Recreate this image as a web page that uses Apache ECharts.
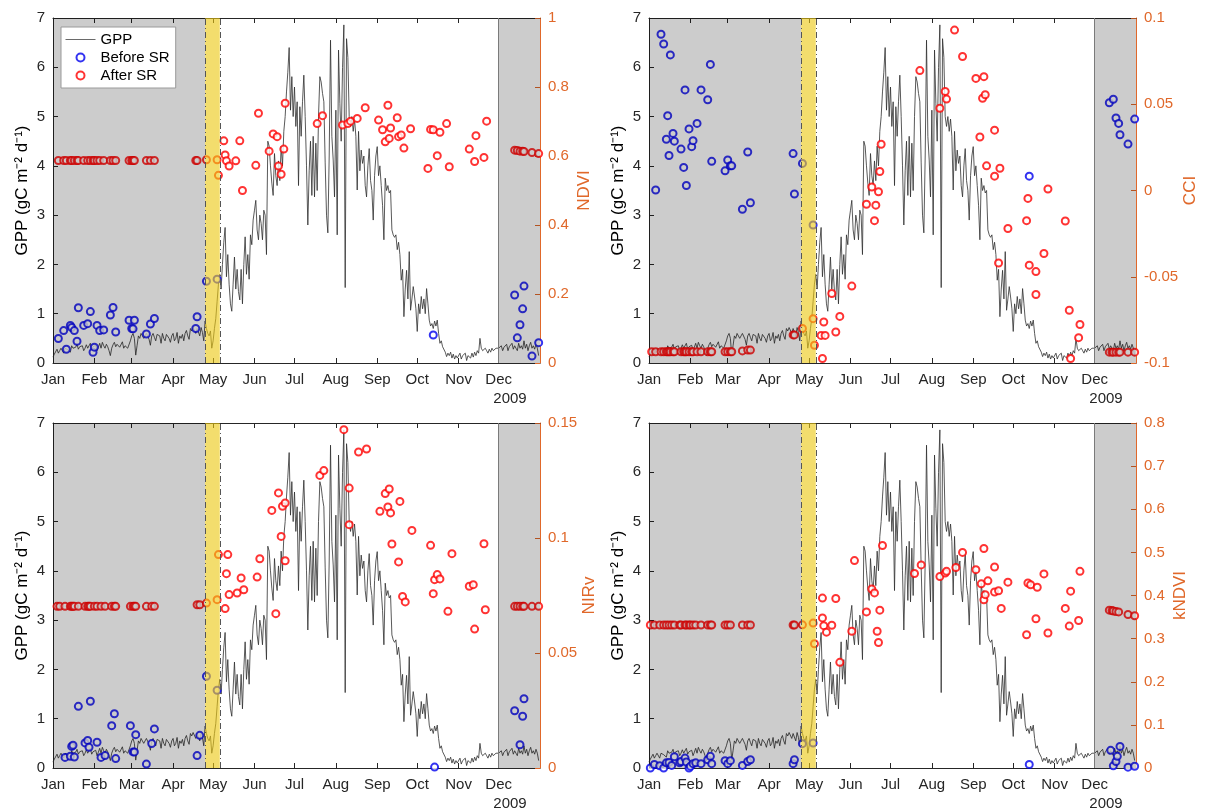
<!DOCTYPE html>
<html>
<head>
<meta charset="utf-8">
<script src="https://cdn.jsdelivr.net/npm/echarts@6/dist/echarts.min.js"></script>
<style>
  html, body { margin: 0; padding: 0; background: #fff; }
  #chart { width: 1205px; height: 812px; }
</style>
</head>
<body>
<div id="chart"></div>
<script>
// Daily GPP for 2009, one array per month (gC m-2 d-1)
const gppJan = [0.12,0.18,0.22,0.28,0.2,0.25,0.3,0.26,0.2,0.3,0.33,0.27,0.3,0.22,0.35,0.3,0.26,0.32,0.38,0.28,0.33,0.3,0.35,0.25,0.3,0.37,0.3,0.33,0.4,0.28,0.33];
const gppFeb = [0.3,0.36,0.25,0.32,0.4,0.3,0.42,0.35,0.3,0.38,0.33,0.25,0.15,0.3,0.37,0.42,0.33,0.38,0.4,0.32,0.36,0.43,0.3,0.35,0.38,0.3,0.33,0.45];
const gppMar = [0.55,0.6,0.5,0.16,0.35,0.55,0.5,0.6,0.63,0.5,0.55,0.6,0.58,0.48,0.36,0.55,0.6,0.52,0.45,0.58,0.62,0.55,0.4,0.6,0.5,0.45,0.58,0.62,0.5,0.42,0.55];
const gppApr = [0.6,0.45,0.5,0.62,0.4,0.55,0.5,0.58,0.45,0.6,0.66,0.55,0.48,0.7,0.65,0.72,0.75,0.6,0.7,0.74,0.55,0.72,0.62,0.45,0.85,0.7,0.6,0.55,0.65,0.3];
const gppMay = [0.45,0.7,0.9,1.25,1.6,1.8,1.5,2.0,2.45,2.75,1.75,2.2,1.6,1.2,1.05,1.6,2.15,1.5,1.9,1.45,1.28,1.9,1.2,2.0,2.56,1.8,2.2,1.7,2.6,2.4,2.9];
const gppJun = [3.1,3.3,2.7,2.5,3.0,2.83,2.5,3.1,3.0,2.2,4.5,4.4,4.0,3.65,3.4,4.25,3.8,3.6,4.1,3.7,4.4,4.0,4.7,5.0,5.5,5.9,6.4,5.13,5.81,5.0];
const gppJul = [5.6,4.8,5.3,3.6,5.2,4.6,5.3,5.84,5.0,4.0,2.8,3.9,4.5,3.4,4.6,3.37,4.46,3.5,5.0,5.81,5.7,5.47,5.3,4.06,3.0,2.64,4.2,6.55,4.6,4.12,3.37];
const gppAug = [5.13,2.6,6.35,5.27,4.5,6.0,6.86,1.53,6.58,6.2,5.0,4.8,5.0,4.7,4.95,4.6,3.51,4.7,3.9,4.32,4.05,4.2,3.6,3.37,4.0,4.35,3.7,3.5,2.9,3.8,4.2];
const gppSep = [4.39,3.8,4.0,3.6,3.2,2.5,3.75,3.5,3.6,3.45,3.5,2.7,2.6,2.55,2.6,2.3,2.45,2.2,1.68,1.9,0.94,1.5,1.88,1.3,2.26,1.07,1.3,1.55,1.34,1.1];
const gppOct = [0.64,1.2,1.0,1.35,1.1,1.3,1.0,1.51,1.2,0.87,0.75,0.8,0.7,0.85,0.75,0.87,0.6,0.4,0.45,0.33,0.3,0.22,0.13,0.2,0.15,0.22,0.1,0.18,0.08,0.15,0.1];
const gppNov = [0.1,0.2,0.08,0.15,0.12,0.2,0.05,0.15,0.18,0.1,0.2,0.12,0.22,0.15,0.25,0.2,0.5,0.3,0.25,0.25,0.3,0.25,0.2,0.28,0.22,0.3,0.25,0.22,0.3,0.28];
const gppDec = [0.3,0.28,0.35,0.25,0.32,0.3,0.38,0.25,0.33,0.3,0.4,0.28,0.35,0.3,0.25,0.4,0.3,0.35,0.28,0.45,0.3,0.38,0.25,0.35,0.42,0.3,0.35,0.28,0.38,0.3,0.15];

// Month tick labels and the day of year each month starts on
const monthNames = ['Jan','Feb','Mar','Apr','May','Jun','Jul','Aug','Sep','Oct','Nov','Dec'];
const monthStarts = [0,31,59,90,120,151,181,212,243,273,304,334];
const yearLabel = '2009';

// Snow periods (day of year) and the snow-melt transition band
const snowSpring = [0, 114];
const meltBand = [114, 125];
const snowWinter = [334, 365];

// NDVI: [day of year, value]
const ndviBefore = [[4,0.071],[8,0.094],[10,0.040],[13,0.109],[14,0.103],[16,0.094],[18,0.063],[19,0.160],[23,0.109],[26,0.114],[28,0.149],[30,0.031],[31,0.046],[33,0.109],[35,0.094],[38,0.096],[43,0.139],[45,0.161],[47,0.090],[57,0.124],[59,0.100],[60,0.099],[61,0.124],[70,0.084],[73,0.113],[76,0.129],[107,0.100],[108,0.134],[115,0.237],[123,0.243],[285,0.081],[346,0.197],[348,0.073],[350,0.111],[352,0.157],[353,0.223],[359,0.020],[364,0.059]];
const ndviAfter = [[4,0.587],[8,0.587],[10,0.587],[13,0.587],[14,0.587],[16,0.587],[18,0.587],[19,0.587],[23,0.587],[26,0.587],[28,0.587],[30,0.587],[31,0.587],[33,0.587],[35,0.587],[38,0.587],[43,0.587],[45,0.587],[47,0.587],[57,0.587],[59,0.587],[60,0.587],[61,0.587],[70,0.587],[73,0.587],[76,0.587],[107,0.587],[108,0.587],[115,0.589],[123,0.589],[124,0.544],
  [128,0.644],[129,0.603],[130,0.586],[132,0.571],[137,0.586],[140,0.644],[142,0.500],[152,0.573],[154,0.724],[162,0.614],[165,0.664],[168,0.656],[169,0.571],[171,0.547],[173,0.620],[174,0.753],[198,0.694],[202,0.717],[217,0.690],[221,0.694],[223,0.701],[228,0.709],[234,0.740],[244,0.704],[247,0.676],[249,0.641],[251,0.747],[252,0.651],[253,0.681],[258,0.711],[259,0.656],[261,0.661],[263,0.623],[268,0.679],[281,0.564],[283,0.677],[285,0.676],[288,0.601],[290,0.669],[295,0.694],[297,0.569],[312,0.620],[316,0.584],[317,0.659],[323,0.596],[325,0.701],
  [346,0.617],[348,0.616],[350,0.614],[352,0.614],[353,0.613],[359,0.610],[364,0.607]];

// CCI
const cciBefore = [[5,0.0003],[9,0.0906],[11,0.0849],[13,0.0297],[14,0.0434],[15,0.0203],[16,0.0786],[18,0.0331],[19,0.0286],[24,0.0240],[26,0.0134],[27,0.0583],[28,0.0029],[30,0.0357],[32,0.0254],[33,0.0289],[36,0.0389],[39,0.0583],[44,0.0526],[46,0.0731],[47,0.0169],[57,0.0114],[59,0.0177],[61,0.0143],[62,0.0143],[70,-0.0109],[74,0.0223],[76,-0.0071],[108,0.0214],[109,-0.0020],[115,0.0157],[123,-0.0200],[285,0.0083],[345,0.0509],[348,0.0529],[350,0.0420],[352,0.0389],[353,0.0323],[359,0.0269],[364,0.0414]];
const cciAfter = [[2,-0.0935],[5,-0.0935],[9,-0.0935],[11,-0.0935],[13,-0.0935],[14,-0.0935],[15,-0.0935],[16,-0.0935],[18,-0.0935],[19,-0.0935],[24,-0.0935],[26,-0.0935],[27,-0.0935],[28,-0.0935],[30,-0.0935],[32,-0.0935],[33,-0.0935],[36,-0.0935],[39,-0.0935],[44,-0.0935],[46,-0.0935],[47,-0.0935],[57,-0.0935],[59,-0.0935],[61,-0.0935],[62,-0.0935],[70,-0.0930],[74,-0.0925],[76,-0.0925],[108,-0.0837],[109,-0.0837],[115,-0.0800],[123,-0.0743],[124,-0.0897],
  [129,-0.0840],[130,-0.0974],[131,-0.0762],[132,-0.0840],[137,-0.0597],[140,-0.0820],[143,-0.0730],[152,-0.0554],[163,-0.0080],[167,0.0020],[169,-0.0175],[170,-0.0085],[172,-0.0007],[173,0.0110],[174,0.0268],[203,0.0695],[218,0.0477],[222,0.0574],[223,0.0530],[229,0.0930],[235,0.0777],[245,0.0650],[248,0.0310],[250,0.0535],[251,0.0660],[252,0.0555],[253,0.0143],[259,0.0083],[259,0.0350],[262,-0.0420],[263,0.0129],[269,-0.0220],[283,-0.0175],[284,-0.0046],[285,-0.0433],[290,-0.0603],[290,-0.0470],[296,-0.0365],[299,0.0009],[312,-0.0177],[315,-0.0694],[316,-0.0974],[322,-0.0853],[323,-0.0777],
  [345,-0.0937],[347,-0.0937],[348,-0.0937],[350,-0.0937],[352,-0.0937],[353,-0.0937],[359,-0.0937],[364,-0.0937]];

// NIRv
const nirvBefore = [[9,0.0046],[13,0.0051],[14,0.0094],[15,0.0099],[16,0.0048],[19,0.0268],[24,0.0109],[26,0.0120],[27,0.0090],[28,0.0290],[33,0.0112],[36,0.0046],[39,0.0054],[44,0.0184],[46,0.0236],[47,0.0041],[58,0.0184],[60,0.0070],[61,0.0070],[62,0.0145],[70,0.0017],[74,0.0106],[76,0.0170],[108,0.0054],[110,0.0142],[115,0.0399],[123,0.0338],[286,0.0004],[346,0.0249],[350,0.0101],[352,0.0225],[353,0.0301]];
const nirvAfter = [[3,0.0703],[5,0.0703],[9,0.0703],[13,0.0703],[14,0.0703],[15,0.0703],[16,0.0703],[19,0.0703],[24,0.0703],[26,0.0703],[27,0.0703],[28,0.0703],[31,0.0703],[33,0.0703],[36,0.0703],[39,0.0703],[44,0.0703],[46,0.0703],[47,0.0703],[58,0.0703],[60,0.0703],[61,0.0703],[62,0.0703],[70,0.0703],[74,0.0703],[76,0.0703],[108,0.0710],[110,0.0710],[115,0.0717],[123,0.0732],[124,0.0928],
  [129,0.0693],[130,0.0845],[131,0.0928],[132,0.0754],[138,0.0761],[141,0.0826],[143,0.0775],[153,0.0830],[155,0.0910],[164,0.1120],[167,0.0671],[169,0.1196],[171,0.1007],[172,0.1138],[174,0.0901],[174,0.1152],[200,0.1272],[203,0.1293],[218,0.1471],[222,0.1058],[222,0.1217],[229,0.1374],[235,0.1387],[245,0.1116],[249,0.1193],[251,0.1135],[252,0.1213],[253,0.1109],[254,0.0974],[259,0.0896],[260,0.1159],[262,0.0746],[264,0.0722],[269,0.1033],[283,0.0968],[285,0.0758],[286,0.0819],[288,0.0841],[290,0.0822],[296,0.0681],[299,0.0932],[312,0.0790],[315,0.0797],[316,0.0604],[323,0.0975],[324,0.0688],
  [346,0.0703],[348,0.0703],[350,0.0703],[352,0.0703],[353,0.0703],[359,0.0703],[364,0.0703]];

// kNDVI
const kndviBefore = [[1,0.000],[4,0.008],[8,0.005],[11,0.000],[13,0.012],[15,0.013],[17,0.006],[19,0.026],[23,0.012],[24,0.015],[27,0.023],[28,0.014],[30,0.000],[31,0.004],[33,0.010],[35,0.012],[39,0.010],[44,0.019],[46,0.027],[47,0.010],[57,0.017],[59,0.010],[61,0.017],[70,0.006],[74,0.015],[76,0.019],[108,0.010],[109,0.019],[115,0.0564],[123,0.058],[285,0.008],[346,0.041],[348,0.005],[350,0.015],[351,0.027],[353,0.050],[359,0.002],[364,0.004]];
const kndviAfter = [[1,0.3316],[4,0.3316],[8,0.3316],[11,0.3316],[13,0.3316],[15,0.3316],[17,0.3316],[19,0.3316],[23,0.3316],[24,0.3316],[27,0.3316],[28,0.3316],[30,0.3316],[31,0.3316],[33,0.3316],[35,0.3316],[39,0.3316],[44,0.3316],[46,0.3316],[47,0.3316],[57,0.3316],[59,0.3316],[61,0.3316],[70,0.3316],[74,0.3316],[76,0.3316],[108,0.3316],[109,0.3316],[115,0.332],[123,0.336],[124,0.288],
  [130,0.394],[130,0.348],[131,0.330],[133,0.315],[137,0.331],[140,0.393],[143,0.245],[152,0.317],[154,0.481],[163,0.362],[167,0.415],[169,0.406],[171,0.317],[172,0.291],[173,0.366],[175,0.516],[199,0.451],[204,0.471],[218,0.444],[222,0.452],[223,0.456],[230,0.465],[235,0.500],[245,0.460],[249,0.427],[251,0.390],[251,0.509],[252,0.402],[254,0.434],[259,0.466],[259,0.408],[262,0.411],[264,0.370],[269,0.431],[283,0.309],[284,0.429],[286,0.425],[290,0.346],[291,0.419],[296,0.450],[299,0.313],[312,0.370],[315,0.329],[316,0.410],[322,0.342],[323,0.456],
  [345,0.366],[347,0.365],[348,0.364],[350,0.363],[352,0.362],[359,0.356],[364,0.353]];

const gppDaily = [].concat(gppJan, gppFeb, gppMar, gppApr, gppMay, gppJun, gppJul, gppAug, gppSep, gppOct, gppNov, gppDec);
const gppSeries = gppDaily.map((v, d) => [d, v]);

const panels = [
  { index: 'NDVI',  min: 0,    max: 1,    step: 0.2,  before: ndviBefore,  after: ndviAfter },
  { index: 'CCI',   min: -0.1, max: 0.1,  step: 0.05, before: cciBefore,   after: cciAfter },
  { index: 'NIRv',  min: 0,    max: 0.15, step: 0.05, before: nirvBefore,  after: nirvAfter },
  { index: 'kNDVI', min: 0,    max: 0.8,  step: 0.1,  before: kndviBefore, after: kndviAfter }
];

const layout = [
  { left: 53,  top: 18 },
  { left: 649, top: 18 },
  { left: 53,  top: 423 },
  { left: 649, top: 423 }
];
const plotW = 487, plotH = 345;

const ink = '#262626';
const orange = '#E0682A';
const font = 'Liberation Sans, Arial, Helvetica, sans-serif';

const grid = [], xAxis = [], yAxis = [], series = [], graphic = [];

panels.forEach((p, i) => {
  const L = layout[i];
  grid.push({ left: L.left, top: L.top, width: plotW, height: plotH, containLabel: false });

  const tickCommon = { show: true, inside: true, length: 5, lineStyle: { color: ink }, customValues: monthStarts };
  xAxis.push({
    gridIndex: i, type: 'value', min: 0, max: 365, position: 'bottom',
    axisLine: { show: true, onZero: false, lineStyle: { color: ink, width: 1 } },
    axisTick: tickCommon,
    axisLabel: {
      customValues: monthStarts, fontSize: 15, color: ink, margin: 9, fontFamily: font,
      formatter: v => monthNames[monthStarts.indexOf(v)]
    },
    splitLine: { show: false }
  });
  xAxis.push({
    gridIndex: i, type: 'value', min: 0, max: 365, position: 'top',
    axisLine: { show: true, onZero: false, lineStyle: { color: ink, width: 1 } },
    axisTick: tickCommon,
    axisLabel: { show: false },
    splitLine: { show: false }
  });

  yAxis.push({
    gridIndex: i, type: 'value', min: 0, max: 7, interval: 1, position: 'left',
    name: 'GPP (gC m\u207B\u00B2 d\u207B\u00B9)', nameLocation: 'middle', nameRotate: 90, nameGap: 22,
    nameTextStyle: { fontSize: 17, color: '#000', fontFamily: font },
    axisLine: { show: true, onZero: false, lineStyle: { color: ink, width: 1 } },
    axisTick: { show: true, inside: true, length: 5, lineStyle: { color: ink } },
    axisLabel: { fontSize: 15, color: ink, margin: 8, fontFamily: font },
    splitLine: { show: false }
  });
  yAxis.push({
    gridIndex: i, type: 'value', min: p.min, max: p.max, interval: p.step, position: 'right',
    name: p.index, nameLocation: 'middle', nameRotate: 90, nameGap: 36,
    nameTextStyle: { fontSize: 17, color: orange, fontFamily: font },
    axisLine: { show: true, onZero: false, lineStyle: { color: orange, width: 1 } },
    axisTick: { show: true, inside: true, length: 5, lineStyle: { color: orange } },
    axisLabel: { fontSize: 15, color: orange, margin: 8, fontFamily: font },
    splitLine: { show: false }
  });

  const xb = 2 * i, yl = 2 * i, yr = 2 * i + 1;

  series.push({
    name: 'GPP', type: 'line', xAxisIndex: xb, yAxisIndex: yl, data: gppSeries,
    showSymbol: false, symbol: 'none', z: 2,
    lineStyle: { color: '#2e2e2e', width: 0.8 }, itemStyle: { color: '#2e2e2e' }
  });
  series.push({
    name: 'Before SR', type: 'scatter', xAxisIndex: xb, yAxisIndex: yr, data: p.before,
    symbol: 'emptyCircle', symbolSize: 7, z: 3,
    itemStyle: { color: '#0000EE', borderColor: '#0000EE', borderWidth: 1.8 }
  });
  series.push({
    name: 'After SR', type: 'scatter', xAxisIndex: xb, yAxisIndex: yr, data: p.after,
    symbol: 'emptyCircle', symbolSize: 7, z: 3,
    itemStyle: { color: '#FF0000', borderColor: '#FF0000', borderWidth: 1.8 }
  });
  // translucent snow shading and melt band drawn over the data
  series.push({
    type: 'line', xAxisIndex: xb, yAxisIndex: yl, data: [], z: 8, silent: true,
    markArea: {
      silent: true, z: 8,
      data: [
        [{ xAxis: snowSpring[0], itemStyle: { color: 'rgba(0,0,0,0.2)' } }, { xAxis: snowSpring[1] }],
        [{ xAxis: snowWinter[0], itemStyle: { color: 'rgba(0,0,0,0.2)' } }, { xAxis: snowWinter[1] }],
        [{ xAxis: meltBand[0], itemStyle: { color: 'rgba(235,200,20,0.62)' } }, { xAxis: meltBand[1] }]
      ]
    },
    markLine: {
      silent: true, z: 9, symbol: ['none', 'none'], label: { show: false },
      animation: false,
      data: [
        { xAxis: meltBand[0], lineStyle: { color: '#555', width: 1, type: [6, 3, 1, 3] } },
        { xAxis: meltBand[1], lineStyle: { color: '#555', width: 1, type: [6, 3, 1, 3] } },
        { xAxis: snowWinter[0], lineStyle: { color: '#7a7a7a', width: 1, type: 'solid' } }
      ]
    }
  });

  graphic.push({
    type: 'text', x: L.left + plotW - 30, y: L.top + plotH + 36,
    style: { text: yearLabel, textAlign: 'center', textVerticalAlign: 'middle',
             font: '15px ' + font, fill: ink }
  });
});

const chart = echarts.init(document.getElementById('chart'), null, { renderer: 'canvas' });
chart.setOption({
  animation: false,
  backgroundColor: '#fff',
  textStyle: { fontFamily: font },
  legend: {
    data: [
      { name: 'GPP', itemStyle: { opacity: 0 }, lineStyle: { width: 1, color: '#6a6a6a' } },
      { name: 'Before SR' },
      { name: 'After SR' }
    ],
    orient: 'vertical', left: 61, top: 27, z: 20,
    itemWidth: 30, itemHeight: 8, itemGap: 3,
    textStyle: { fontSize: 15, color: '#000', fontFamily: font },
    backgroundColor: '#fff', borderColor: '#9a9a9a', borderWidth: 1,
    padding: [5, 6, 5, 4], selectedMode: false
  },
  grid, xAxis, yAxis, series, graphic
});
</script>
</body>
</html>
